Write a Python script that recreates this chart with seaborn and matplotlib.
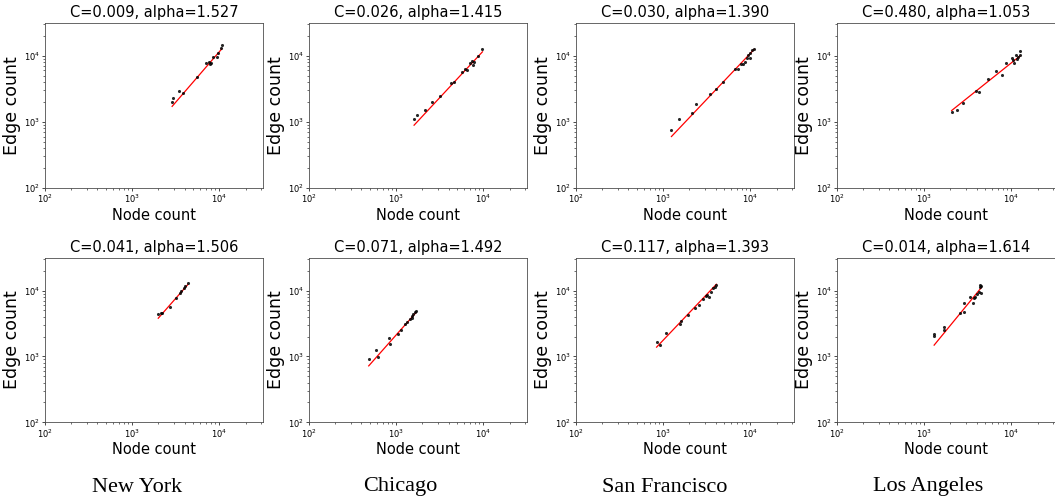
import numpy as np
import pandas as pd
import matplotlib
matplotlib.use("Agg")
import matplotlib.pyplot as plt
import seaborn as sns

# === Daten ===
cities = ["New York", "Chicago", "San Francisco", "Los Angeles"]

C_top = [0.009, 0.026, 0.030, 0.480]
alpha_top = [1.527, 1.415, 1.390, 1.053]
C_bot = [0.041, 0.071, 0.117, 0.014]
alpha_bot = [1.506, 1.492, 1.393, 1.614]

# obere Reihe
ny_top_nodes = [2870, 2900, 3480, 3800, 5590, 7110, 7500, 8110, 7800, 8550, 9490, 9750, 10450, 10620]
ny_top_edges = [1987, 2335, 2950, 2780, 4750, 7830, 7980, 7750, 7600, 9420, 9540, 10970, 13100, 14700]
chi_top_nodes = [1603, 1718, 2138, 2547, 3140, 4250, 4560, 5665, 6190, 6460, 7060, 7370, 7500, 7900, 8620, 9750]
chi_top_edges = [1110, 1276, 1520, 1986, 2500, 3855, 4000, 5665, 6280, 6130, 7750, 8390, 7130, 7910, 10000, 12760]
sf_top_nodes = [1243, 1521, 2153, 2389, 3421, 4037, 4844, 6704, 7301, 7757, 8178, 8705, 9091, 9325, 9922, 9922, 10542, 11021]
sf_top_edges = [757, 1110, 1383, 1854, 2630, 3162, 4000, 6350, 6350, 7480, 7570, 8110, 9230, 10350, 9230, 11090, 12020, 12650]
la_top_nodes = [2065, 2390, 2772, 3925, 4295, 5335, 6630, 7765, 8710, 10070, 10540, 10820, 11200, 11480, 12020, 12560, 12560]
la_top_edges = [1403, 1520, 1918, 2950, 2850, 4490, 5930, 5100, 7750, 9230, 8700, 7750, 10350, 8910, 9560, 11600, 10350]

# untere Reihe
ny_bot_nodes = [1990, 2118, 2210, 2680, 3140, 3575, 3670, 3900, 4075, 4325]
ny_bot_edges = [4375, 4540, 4635, 5715, 7660, 9330, 10000, 10870, 11770, 12940]
chi_bot_nodes = [484, 588, 624, 832, 855, 1054, 1149, 1256, 1344, 1442, 1508, 1531, 1573, 1632, 1675]
chi_bot_edges = [916, 1256, 972, 1932, 1531, 2198, 2529, 3084, 3380, 3675, 3808, 4130, 4430, 4800, 4965]
sf_bot_nodes = [840, 924, 1090, 1561, 1615, 1923, 2293, 2566, 2872, 3057, 3188, 3335, 3487, 3729, 3900, 4072]
sf_bot_edges = [1679, 1496, 2300, 3120, 3500, 4275, 5520, 6070, 7400, 8300, 8600, 7940, 9660, 10870, 11500, 12210]
la_bot_nodes = [1300, 1300, 1687, 1687, 2565, 2850, 2850, 3395, 3605, 3700, 3800, 4035, 4220, 4330, 4405, 4475, 4525]
la_bot_edges = [2173, 2050, 2780, 2530, 4540, 6440, 4700, 8110, 6580, 7660, 7940, 8910, 9460, 12210, 11510, 9120, 11910]

panels = [
    (ny_top_nodes, ny_top_edges, C_top[0], alpha_top[0]),
    (chi_top_nodes, chi_top_edges, C_top[1], alpha_top[1]),
    (sf_top_nodes, sf_top_edges, C_top[2], alpha_top[2]),
    (la_top_nodes, la_top_edges, C_top[3], alpha_top[3]),
    (ny_bot_nodes, ny_bot_edges, C_bot[0], alpha_bot[0]),
    (chi_bot_nodes, chi_bot_edges, C_bot[1], alpha_bot[1]),
    (sf_bot_nodes, sf_bot_edges, C_bot[2], alpha_bot[2]),
    (la_bot_nodes, la_bot_edges, C_bot[3], alpha_bot[3]),
]

# === Layout (Pixel -> Figurenkoordinaten) ===
W, H = 1055, 499
fig = plt.figure(figsize=(W / 100, H / 100), dpi=100)

lefts = [45, 309, 576, 837]
tops = [22.7, 257.7]
bottoms = [188, 422.3]
aw = 218

for i, (nodes, edges, C, alpha) in enumerate(panels):
    r, c = divmod(i, 4)
    ax = fig.add_axes([lefts[c] / W, 1 - bottoms[r] / H,
                       aw / W, (bottoms[r] - tops[r]) / H])
    ax.set_xscale("log")
    ax.set_yscale("log")

    # gefittete Potenzfunktion E = C * N^alpha
    xs = np.sort(np.unique(nodes))
    ys = C * xs ** alpha
    sns.lineplot(x=xs, y=ys, ax=ax, color="red", lw=0.9, estimator=None, zorder=2)
    sns.scatterplot(x=nodes, y=edges, ax=ax, color="black", s=5,
                    linewidth=0, alpha=0.85, zorder=3)

    ax.set_xlim(1e2, 10 ** 4.5)
    ax.set_ylim(1e2, 10 ** 4.5)
    ax.set_title(f"C={C:.3f}, alpha={alpha:.3f}", fontsize=10.5, pad=4)
    ax.set_xlabel("Node count", fontsize=10.5, labelpad=2)
    ax.set_ylabel("Edge count", fontsize=12.5, labelpad=2)
    ax.tick_params(which="major", length=2, width=0.5, pad=1.5, labelsize=6)
    ax.tick_params(which="minor", length=1.2, width=0.4)
    for sp in ax.spines.values():
        sp.set_linewidth(0.6)
        sp.set_color("0.3")

# Städtenamen unten
city_x = [137, 400, 665, 928]
for name, cx in zip(cities, city_x):
    fig.text(cx / W, 1 - 487 / H, name, ha="center", va="center",
             fontsize=16, family="Liberation Serif")

fig.savefig("out.png", dpi=100)
